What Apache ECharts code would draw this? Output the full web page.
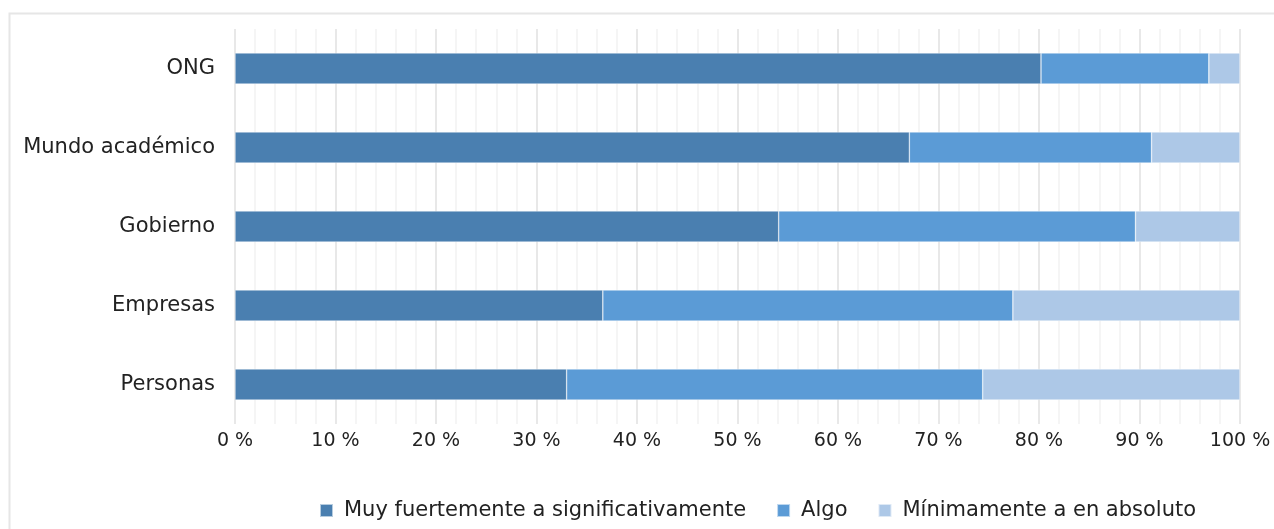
<!DOCTYPE html>
<html>
<head>
<meta charset="utf-8">
<script src="https://cdn.jsdelivr.net/npm/echarts@6/dist/echarts.min.js"></script>
<style>
html,body{margin:0;padding:0;background:#fff;}
#chart{width:1274px;height:529px;}
</style>
</head>
<body>
<div id="chart"></div>
<script>
const categories = ['Personas', 'Empresas', 'Gobierno', 'Mundo académico', 'ONG'];
const seriesNames = ['Muy fuertemente a significativamente', 'Algo', 'Mínimamente a en absoluto'];
const muyFuerte = [33.0, 36.6, 54.1, 67.1, 80.2];
const algo = [41.4, 40.8, 35.5, 24.1, 16.7];
const minimo = [25.6, 22.6, 10.4, 8.8, 3.1];
const colors = ['#4a7fb0', '#5b9bd6', '#adc8e7'];

const FONT = 'DejaVu Sans';
const chart = echarts.init(document.getElementById('chart'));
const mk = (name, data, i) => ({
  name, type: 'bar', stack: 'total', data, barWidth: 31,
  itemStyle: { color: colors[i], borderColor: 'rgba(255,255,255,0.6)', borderWidth: 0.6 },
  emphasis: { disabled: true }
});
chart.setOption({
  animation: false,
  textStyle: { fontFamily: FONT },
  graphic: [{
    type: 'rect', left: 7, top: 11, silent: true, z: -1,
    shape: { width: 1300, height: 600 },
    style: { fill: 'none', stroke: '#e6e6e6', lineWidth: 2 }
  }],
  grid: { left: 235, right: 34, top: 29, bottom: 105 },
  xAxis: {
    type: 'value', min: 0, max: 100, interval: 10,
    axisLine: { show: false },
    axisTick: { show: false },
    axisLabel: { formatter: '{value} %', color: '#222', fontSize: 19, margin: 8, fontFamily: FONT },
    splitLine: { show: true, lineStyle: { color: '#e0e0e0', width: 1.5 } },
    minorTick: { show: false, splitNumber: 5 },
    minorSplitLine: { show: true, lineStyle: { color: '#f2f2f2', width: 1.5 } }
  },
  yAxis: {
    type: 'category', data: categories,
    axisLine: { show: false },
    axisTick: { show: false },
    axisLabel: { color: '#222', fontSize: 21, margin: 20, fontFamily: FONT }
  },
  legend: {
    data: seriesNames, left: 319, top: 500, padding: 0,
    itemWidth: 13, itemHeight: 13, itemGap: 30,
    icon: 'rect',
    textStyle: { color: '#222', fontSize: 21, fontFamily: FONT, padding: [0, 0, 0, 6] }
  },
  series: [mk(seriesNames[0], muyFuerte, 0), mk(seriesNames[1], algo, 1), mk(seriesNames[2], minimo, 2)]
});
</script>
</body>
</html>
